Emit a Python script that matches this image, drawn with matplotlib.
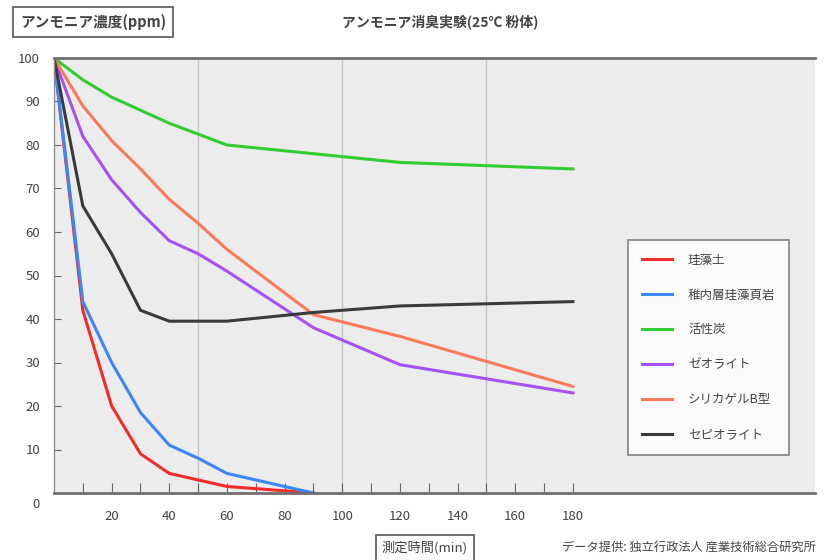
import matplotlib
matplotlib.use('Agg')
import matplotlib.pyplot as plt
import matplotlib.transforms as mtransforms

plt.rcParams['font.family'] = ['Noto Sans CJK JP', 'DejaVu Sans']

# data (minutes, ppm)
series_names = ['珪藻土', '稚内層珪藻頁岩', '活性炭', 'ゼオライト', 'シリカゲルB型', 'セピオライト']
colors = ['#f22b2b', '#3d86f5', '#33cc33', '#a452f5', '#fa7a5c', '#3a3a3a']

t_fast = [0, 10, 20, 30, 40, 50, 60, 90]
keisoudo = [100, 42, 20, 9, 4.5, 3, 1.5, 0]
wakkanai = [100, 44, 30, 18.5, 11, 8, 4.5, 0]

t_green = [0, 10, 20, 30, 40, 50, 60, 90, 120, 180]
kasseitan = [100, 95, 91, 88, 85, 82.5, 80, 78, 76, 74.5]

t_slow = [0, 10, 20, 30, 40, 50, 60, 90, 120, 180]
zeolite = [100, 82, 72, 64.5, 58, 55, 51, 38, 29.5, 23]
silica = [100, 89, 81, 74.5, 67.5, 62, 56, 41, 36, 24.5]
sepiolite = [100, 66, 55, 42, 39.5, 39.5, 39.5, 41.5, 43, 44]

series = [
    (t_fast, keisoudo),
    (t_fast, wakkanai),
    (t_green, kasseitan),
    (t_slow, zeolite),
    (t_slow, silica),
    (t_slow, sepiolite),
]

x_labels = [20, 40, 60, 80, 100, 120, 140, 160, 180]
y_ticks = list(range(0, 101, 10))

fig = plt.figure(figsize=(8.26, 5.6), dpi=100)
ax = fig.add_axes([54 / 826, 1 - 493 / 560, (815 - 54) / 826, (493 - 58) / 560])
ax.set_facecolor('#ececec')

for (t, v), name, c in zip(series, series_names, colors):
    ax.plot(t, v, color=c, lw=2.2, label=name, solid_joinstyle='round')

ax.set_xlim(0, 264)
ax.set_ylim(0, 100)

for xv in [50, 100, 150]:
    ax.axvline(xv, color='#c4c4c4', lw=1, zorder=0)

for side in ['top', 'bottom']:
    ax.spines[side].set_color('#707070')
    ax.spines[side].set_linewidth(2)
ax.spines['left'].set_color('#909090')
ax.spines['left'].set_linewidth(1)
ax.spines['right'].set_visible(False)

ax.set_yticks(y_ticks)
ax.set_yticklabels([str(y) for y in y_ticks], fontsize=9.5, color='#444444')
ax.tick_params(axis='y', direction='in', length=5, color='#666666', pad=10)
# the "0" label sits a little below the axis in the original
ylabs = ax.get_yticklabels()
ylabs[0].set_transform(ylabs[0].get_transform() +
                       mtransforms.ScaledTranslation(0, -10 / 100, fig.dpi_scale_trans))

ax.set_xticks(list(range(10, 181, 10)))
ax.set_xticklabels(['' if v not in x_labels else str(v) for v in range(10, 181, 10)],
                   fontsize=9.5, color='#444444')
ax.tick_params(axis='x', direction='in', length=7, color='#666666', pad=12)

leg = ax.legend(loc='upper left', bbox_to_anchor=((628 - 54) / 761, (493 - 240) / 435),
                fontsize=9, frameon=True, fancybox=False, edgecolor='#666666',
                labelspacing=1.75, handlelength=2.4, handletextpad=1.3,
                borderpad=1.1, borderaxespad=0)
leg.get_frame().set_facecolor('white')
leg.get_frame().set_linewidth(1.2)
for text in leg.get_texts():
    text.set_color('#444444')

box = dict(boxstyle='square,pad=0.45', fc='white', ec='#555555', lw=1.2)
fig.text(20 / 826, 1 - 22 / 560, 'アンモニア濃度(ppm)', fontsize=10.5, color='#444444',
         weight='bold', va='center', ha='left', bbox=box)
fig.text(440 / 826, 1 - 22 / 560, 'アンモニア消臭実験(25℃ 粉体)', fontsize=10,
         color='#444444', weight='bold', va='center', ha='center')
fig.text(425 / 826, 1 - 548 / 560, '測定時間(min)', fontsize=9.5, color='#444444',
         va='center', ha='center', bbox=box)
fig.text(562 / 826, 1 - 548 / 560, 'データ提供: 独立行政法人 産業技術総合研究所',
         fontsize=8.8, color='#444444', va='center', ha='left')

fig.savefig('out.png', dpi=100, facecolor='white')
